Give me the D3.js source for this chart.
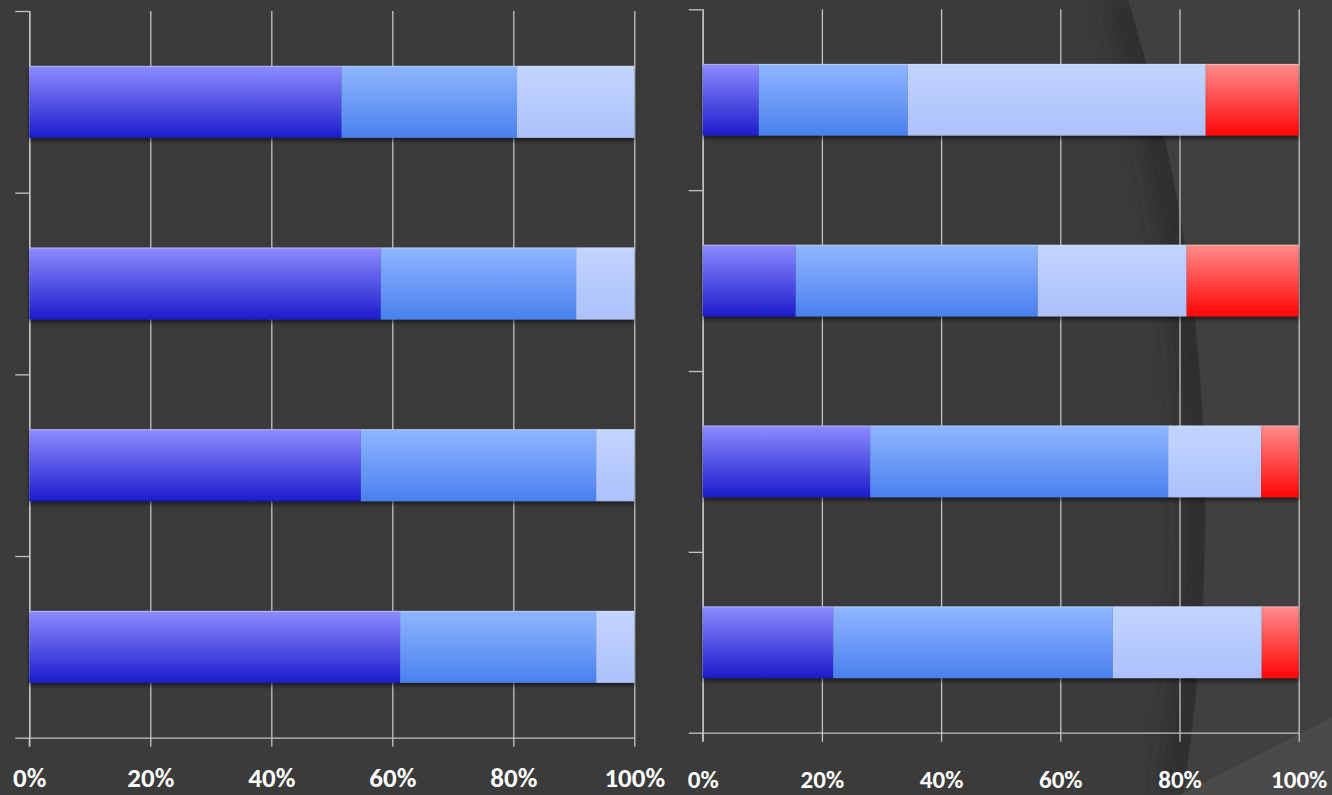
<!DOCTYPE html>
<html><head><meta charset="utf-8">
<script src="https://cdn.jsdelivr.net/npm/d3@7"></script>
<style>html,body{margin:0;padding:0;background:#3b3b3b;overflow:hidden}</style>
</head><body>
<script>
// ---- data ----
const categories = ["1", "2", "3", "4"];
const leftKeys = ["s1", "s2", "s3"];
const leftS1 = [51.6, 58.1, 54.8, 61.3];
const leftS2 = [29.0, 32.3, 38.9, 32.4];
const leftS3 = [19.4, 9.6, 6.3, 6.3];
const rightKeys = ["s1", "s2", "s3", "s4"];
const rightS1 = [9.4, 15.6, 28.1, 21.9];
const rightS2 = [25.0, 40.6, 50.0, 46.9];
const rightS3 = [50.0, 25.0, 15.6, 25.0];
const rightS4 = [15.6, 18.8, 6.3, 6.2];
const xTicks = [0, 20, 40, 60, 80, 100];
const tickLabels = ["0%", "20%", "40%", "60%", "80%", "100%"];

const W = 1332, H = 795;
const svg = d3.select("body").append("svg").attr("width", W).attr("height", H);
const defs = svg.append("defs");

const grads = {
  s1: ["#8e8cff", "#1c1ccc"],
  s2: ["#8fb6ff", "#4a80ee"],
  s3: ["#c2d5ff", "#adc0fb"],
  s4: ["#ff8c8c", "#ff0606"]
};
Object.entries(grads).forEach(([k, c]) => {
  const g = defs.append("linearGradient").attr("id", "g_" + k).attr("x1", 0).attr("y1", 0).attr("x2", 0).attr("y2", 1);
  g.append("stop").attr("offset", "0%").attr("stop-color", c[0]);
  g.append("stop").attr("offset", "100%").attr("stop-color", c[1]);
});
const f = defs.append("filter").attr("id", "shadow").attr("x", "-5%").attr("y", "-20%").attr("width", "110%").attr("height", "150%");
f.append("feDropShadow").attr("dx", 0).attr("dy", 3).attr("stdDeviation", 2).attr("flood-color", "#000").attr("flood-opacity", 0.55);
const blur = defs.append("filter").attr("id", "blur").attr("x", "-50%").attr("y", "-10%").attr("width", "200%").attr("height", "120%");
blur.append("feGaussianBlur").attr("stdDeviation", 12);

// background
svg.append("rect").attr("width", W).attr("height", H).attr("fill", "#3b3b3b");
const curve = "M1128,0 C1175,150 1240,430 1183,795";
svg.append("path").attr("d", curve).attr("transform", "translate(-6,0)").attr("fill", "none").attr("stroke", "#262626").attr("stroke-width", 30).attr("filter", "url(#blur)").attr("opacity", 0.7);
svg.append("path").attr("d", curve + " L1332,795 L1332,0 Z").attr("fill", "#404040");
svg.append("path").attr("d", "M1180,795 L1332,717 L1332,795 Z").attr("fill", "#4a4a4a");

function panel(cfg) {
  const x = d3.scaleLinear().domain([0, 100]).range([cfg.x0, cfg.x1]);
  const y = d3.scaleBand().domain(categories).range([cfg.y0, cfg.y1]).paddingInner(0.604).paddingOuter(0.302);
  const yb = d3.scaleLinear().domain([0, categories.length]).range([cfg.y0, cfg.y1]);
  const g = svg.append("g");

  // gridlines
  g.append("g").attr("transform", `translate(0,${cfg.y1})`)
    .call(d3.axisBottom(x).tickValues(xTicks).tickSizeInner(-(cfg.y1 - cfg.y0)).tickSizeOuter(0).tickFormat(""))
    .call(s => s.select(".domain").remove())
    .call(s => s.selectAll("line").attr("stroke", "#c4c4c4").attr("stroke-width", 1.3));
  // x axis with ticks below
  const xa = g.append("g").attr("transform", `translate(0,${cfg.y1})`)
    .call(d3.axisBottom(x).tickValues(xTicks).tickSizeInner(9).tickSizeOuter(0).tickFormat((d, i) => tickLabels[i]));
  xa.select(".domain").attr("stroke", "#c4c4c4").attr("stroke-width", 1.3);
  xa.selectAll("line").attr("stroke", "#c4c4c4").attr("stroke-width", 1.3);
  xa.selectAll("text").attr("y", cfg.labelY).attr("dy", 0)
    .attr("fill", "#ffffff").attr("font-family", "Carlito, Lato, 'Open Sans', sans-serif")
    .attr("font-weight", "bold").attr("font-size", cfg.fs);
  // y axis ticks at band boundaries
  const ya = g.append("g").attr("transform", `translate(${cfg.x0},0)`)
    .call(d3.axisLeft(yb).tickValues(d3.range(categories.length + 1)).tickSizeInner(14).tickSizeOuter(0).tickFormat(""));
  ya.select(".domain").attr("stroke", "#c4c4c4").attr("stroke-width", 1.3);
  ya.selectAll("line").attr("stroke", "#c4c4c4").attr("stroke-width", 1.3);
  g.append("line").attr("x1", cfg.x0).attr("x2", cfg.x0).attr("y1", cfg.y1).attr("y2", cfg.y1 + 9)
    .attr("stroke", "#c4c4c4").attr("stroke-width", 1.3);

  const rows = categories.map((c, i) => {
    const o = { cat: c };
    cfg.keys.forEach((k, j) => o[k] = cfg.series[j][i]);
    return o;
  });
  const stacked = d3.stack().keys(cfg.keys)(rows);
  const bars = g.append("g").attr("filter", "url(#shadow)");
  stacked.forEach(layer => {
    bars.selectAll(null).data(layer).join("rect")
      .attr("x", d => x(d[0]))
      .attr("width", d => x(d[1]) - x(d[0]))
      .attr("y", d => y(d.data.cat))
      .attr("height", y.bandwidth())
      .attr("fill", `url(#g_${layer.key})`);
  });
  bars.selectAll(".edge").data(categories).join("line").attr("class", "edge")
    .attr("x1", cfg.x0).attr("x2", cfg.x1).attr("y1", d => y(d) + 0.5).attr("y2", d => y(d) + 0.5)
    .attr("stroke", "rgba(230,230,240,0.45)").attr("stroke-width", 1);
}

panel({ x0: 29.3, x1: 634.3, y0: 11, y1: 737.7, keys: leftKeys, series: [leftS1, leftS2, leftS3], labelY: 49, fs: 27 });
panel({ x0: 702.7, x1: 1298.7, y0: 9.3, y1: 732.7, keys: rightKeys, series: [rightS1, rightS2, rightS3, rightS4], labelY: 55, fs: 25 });
</script>
</body></html>
